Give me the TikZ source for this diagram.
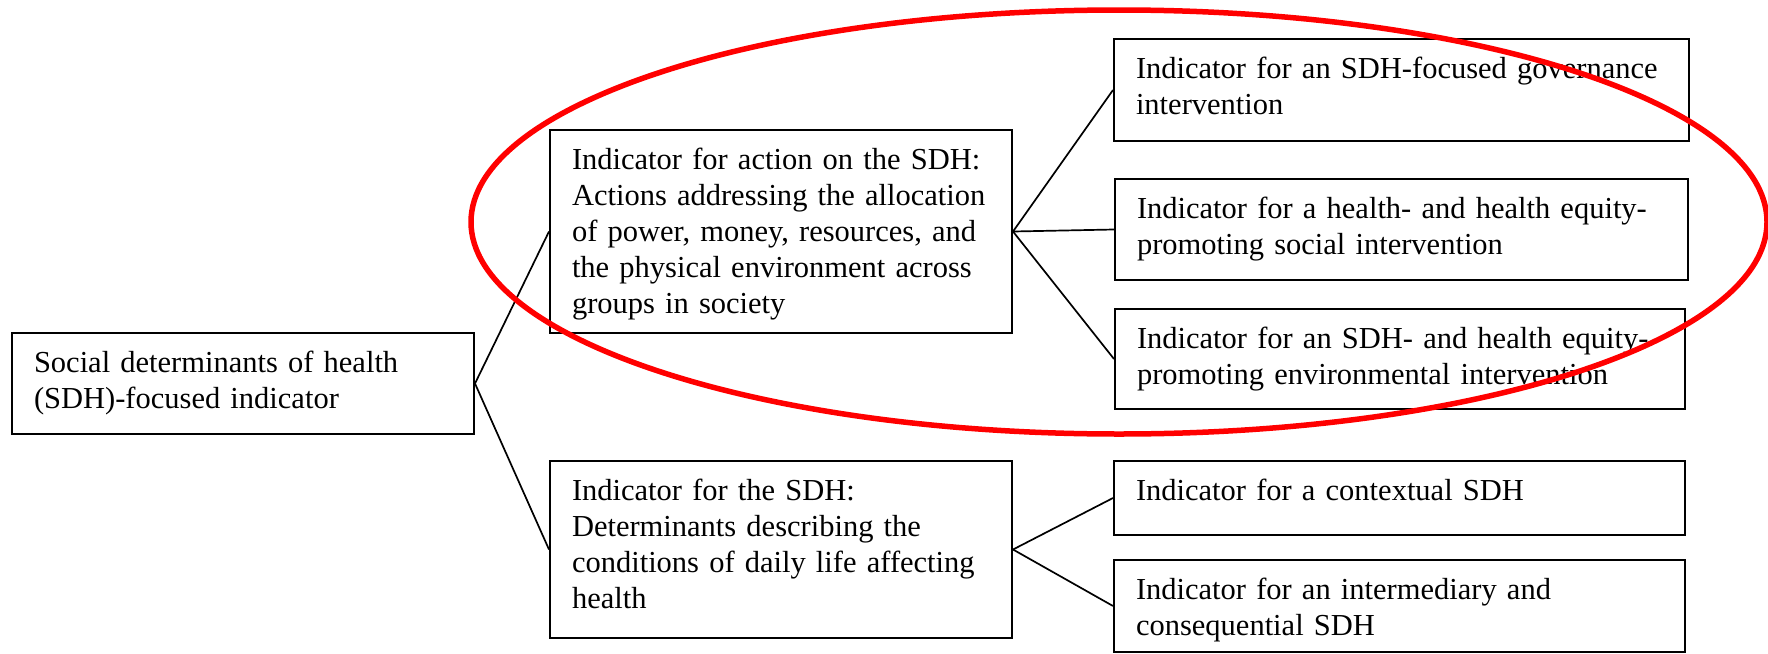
\documentclass[tikz,border=0pt]{standalone}
\usepackage{fontspec}
\setmainfont{Liberation Serif}
\usepackage{tikz}
\definecolor{ringred}{RGB}{255,0,0}

\begin{document}
\begin{tikzpicture}[x=1pt, y=-1pt,
    ind/.style={draw, line width=2pt, anchor=north west, align=left,
        inner xsep=22pt, inner ysep=0pt, text height=39pt,
        font=\fontsize{30.5}{36}\selectfont},
    link/.style={line width=1.7pt}]
    \useasboundingbox (0,0) rectangle (1768,653);

    % Root
    \node[ind, text width=418pt, text depth=62pt] (root) at (11,332) {
        Social determinants of health \\
        (SDH)-focused indicator
    };

    % Action on the SDH
    \node[ind, text width=418pt, text depth=164pt] (action) at (549,129) {
        Indicator for action on the SDH: \\
        Actions addressing the allocation \\
        of power, money, resources, and \\
        the physical environment across \\
        groups in society
    };

    % The SDH
    \node[ind, text width=418pt, text depth=138pt] (sdh) at (549,460) {
        Indicator for the SDH: \\
        Determinants describing the \\
        conditions of daily life affecting \\
        health
    };

    % Interventions
    \node[ind, text width=531pt, text depth=63pt] (gov) at (1113,38) {
        Indicator for an SDH-focused governance \\
        intervention
    };
    \node[ind, text width=529pt, text depth=62pt] (social) at (1114,178) {
        Indicator for a health- and health equity- \\
        promoting social intervention
    };
    \node[ind, text width=526pt, text depth=61pt] (env) at (1114,308) {
        Indicator for an SDH- and health equity- \\
        promoting environmental intervention
    };

    % Determinants
    \node[ind, text width=527pt, text depth=35pt] (context) at (1113,460) {
        Indicator for a contextual SDH
    };
    \node[ind, text width=527pt, text depth=53pt] (inter) at (1113,559) {
        Indicator for an intermediary and \\
        consequential SDH
    };

    % Connectors
    \draw[link] (root.east) -- (action.west);
    \draw[link] (root.east) -- (sdh.west);
    \draw[link] (action.east) -- (gov.west);
    \draw[link] (action.east) -- (social.west);
    \draw[link] (action.east) -- (env.west);
    \draw[link] (sdh.east) -- (context.west);
    \draw[link] (sdh.east) -- (inter.west);

    % Highlight
    \draw[ringred, line width=5.5pt] (1119,222) ellipse [x radius=648pt, y radius=212pt];
\end{tikzpicture}
\end{document}
